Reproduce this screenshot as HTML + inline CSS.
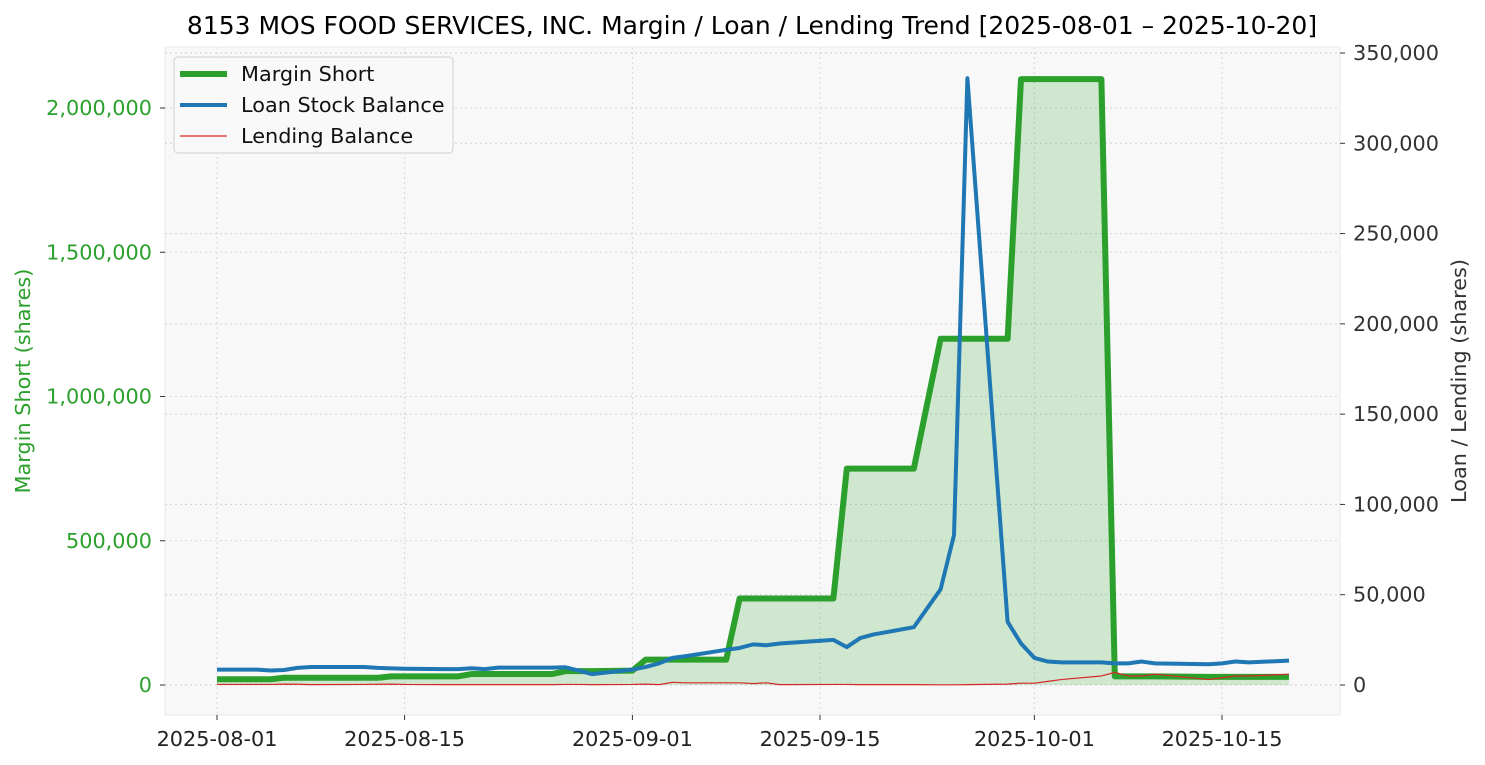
<!DOCTYPE html>
<html><head><meta charset="utf-8"><style>
body{margin:0;background:#fff;}
svg{display:block;font-family:"DejaVu Sans","Liberation Sans",sans-serif;}
</style></head><body>
<svg id="chart" width="1485" height="765" viewBox="0 0 1485 765"></svg>
<script>
const dates=["2025-08-01","2025-08-04","2025-08-05","2025-08-06","2025-08-07","2025-08-08","2025-08-12","2025-08-13","2025-08-14","2025-08-15","2025-08-18","2025-08-19","2025-08-20","2025-08-21","2025-08-22","2025-08-25","2025-08-26","2025-08-27","2025-08-28","2025-08-29","2025-09-01","2025-09-02","2025-09-03","2025-09-04","2025-09-05","2025-09-08","2025-09-09","2025-09-10","2025-09-11","2025-09-12","2025-09-16","2025-09-17","2025-09-18","2025-09-19","2025-09-22","2025-09-24","2025-09-25","2025-09-26","2025-09-29","2025-09-30","2025-10-01","2025-10-02","2025-10-03","2025-10-06","2025-10-07","2025-10-08","2025-10-09","2025-10-10","2025-10-14","2025-10-15","2025-10-16","2025-10-17","2025-10-20"];
const marginShort=[20000,20000,20000,25000,25000,25000,25000,25000,30000,30000,30000,30000,38000,38000,38000,38000,38000,48000,48000,48000,50000,88000,88000,88000,88000,88000,300000,300000,300000,300000,300000,750000,750000,750000,750000,1200000,1200000,1200000,1200000,2100000,2100000,2100000,2100000,2100000,30000,30000,30000,30000,28000,28000,28000,28000,28000];
const loanBalance=[8500,8500,8000,8300,9500,10000,10000,9500,9200,9000,8800,8800,9300,8800,9600,9600,9600,9800,8000,6000,8500,10000,12000,15000,16000,19500,20500,22500,22000,23000,25000,21000,26000,28000,32000,53000,83000,336000,35000,23000,15000,13000,12500,12500,12000,12000,13000,12000,11500,12000,13000,12500,13500];
const lendingBalance=[300,300,300,500,400,200,300,400,500,300,200,200,200,200,200,200,200,300,300,200,300,500,200,1500,1200,1200,1200,800,1200,200,300,300,200,200,200,100,100,200,500,1000,1000,2000,3000,5000,7000,5000,5000,6000,3000,4000,5000,5000,6000];
const leftTicks=[0,500000,1000000,1500000,2000000];
const rightTicks=[0,50000,100000,150000,200000,250000,300000,350000];
const xTickLabels=["2025-08-01","2025-08-15","2025-09-01","2025-09-15","2025-10-01","2025-10-15"];

const NS="http://www.w3.org/2000/svg";
const svg=document.getElementById('chart');
const PL=165,PR=1340,PT=47,PB=715;
const t0=Date.UTC(2025,7,1);
function dayOf(s){const p=s.split('-');return (Date.UTC(+p[0],+p[1]-1,+p[2])-t0)/86400000;}
function xS(s){return 217+dayOf(s)*13.4;}
function yL(v){return 685-v*(577/2000000);}
function yR(v){return 685-v*(632/350000);}
function el(tag,attrs,parent){const e=document.createElementNS(NS,tag);for(const k in attrs)e.setAttribute(k,attrs[k]);(parent||svg).appendChild(e);return e;}
function fmt(v){return v.toLocaleString('en-US');}

let bg=el('rect',{x:PL,y:PT,width:PR-PL,height:PB-PT,fill:'#f8f8f8',stroke:'#e8e8e8'});



xTickLabels.forEach(s=>{const x=xS(s);
 let g=el('line',{x1:x,x2:x,y1:PT,y2:PB,stroke:'#d8d8d8','stroke-dasharray':'2,3','stroke-width':1});
 
 
});
leftTicks.forEach(v=>{const y=yL(v);
 let g=el('line',{x1:PL,x2:PR,y1:y,y2:y,stroke:'#d8d8d8','stroke-dasharray':'2,3','stroke-width':1});
 
 
});
rightTicks.forEach(v=>{const y=yR(v);
 let g=el('line',{x1:PL,x2:PR,y1:y,y2:y,stroke:'#d0d0d0','stroke-dasharray':'2,3','stroke-width':1});
 
 
});

let fp='M'+xS(dates[0])+','+yL(0);
dates.forEach((d,i)=>{fp+=' L'+xS(d)+','+yL(marginShort[i]);});
fp+=' L'+xS(dates[dates.length-1])+','+yL(0)+' Z';
let fill=el('path',{d:fp,fill:'#2ca02c','fill-opacity':0.2,stroke:'none'});



function line(vals,yf,color,w,name){
 const pts=dates.map((d,i)=>xS(d)+','+yf(vals[i])).join(' ');
 let p=el('polyline',{points:pts,fill:'none',stroke:color,'stroke-width':w,'stroke-linejoin':'round'});
 
 
}
line(marginShort,yL,'#2ca02c',6,'margin-short-line');
line(loanBalance,yR,'#1f77b4',4,'loan-stock-balance-line');
line(lendingBalance,yR,'#d62728',1.2,'lending-balance-line');

leftTicks.forEach(v=>{const y=yL(v);
 el('line',{x1:PL-5,x2:PL,y1:y,y2:y,stroke:'#333'});
 let t=el('text',{x:PL-13,y:y+7,'text-anchor':'end','font-size':20.8,fill:'#2ca02c'});t.textContent=fmt(v);
 
 
});
rightTicks.forEach(v=>{const y=yR(v);
 el('line',{x1:PR,x2:PR+5,y1:y,y2:y,stroke:'#333'});
 let t=el('text',{x:PR+13,y:y+7,'font-size':20.8,fill:'#333'});t.textContent=fmt(v);
 
 
});
xTickLabels.forEach(s=>{const x=xS(s);
 el('line',{x1:x,x2:x,y1:PB,y2:PB+5,stroke:'#333'});
 let t=el('text',{x:x,y:PB+31,'text-anchor':'middle','font-size':20.8,fill:'#222'});t.textContent=s;
 
 
});

let tt=el('text',{x:752,y:34,'text-anchor':'middle','font-size':25,fill:'#000'});
tt.textContent='8153 MOS FOOD SERVICES, INC. Margin / Loan / Lending Trend [2025-08-01 – 2025-10-20]';


let yl=el('text',{x:30,y:381,'text-anchor':'middle','font-size':20.8,fill:'#2ca02c',transform:'rotate(-90 30 381)'});
yl.textContent='Margin Short (shares)';


let yr=el('text',{x:1466,y:381,'text-anchor':'middle','font-size':20.8,fill:'#333',transform:'rotate(-90 1466 381)'});
yr.textContent='Loan / Lending (shares)';



let lg=el('g',{});


el('rect',{x:174,y:57,width:279,height:96,rx:4,fill:'#f8f8f8','fill-opacity':0.9,stroke:'#cfcfcf'},lg);
[['Margin Short','#2ca02c',6,'legend-margin-short'],['Loan Stock Balance','#1f77b4',4,'legend-loan-stock-balance'],['Lending Balance','#d62728',1.2,'legend-lending-balance']].forEach((e,i)=>{
 const y=74+i*31;
 el('line',{x1:180,x2:227,y1:y,y2:y,stroke:e[1],'stroke-width':e[2]},lg);
 let t=el('text',{x:241,y:y+7,'font-size':20.8,fill:'#111'},lg);t.textContent=e[0];
 
 
});
</script>
</body></html>
